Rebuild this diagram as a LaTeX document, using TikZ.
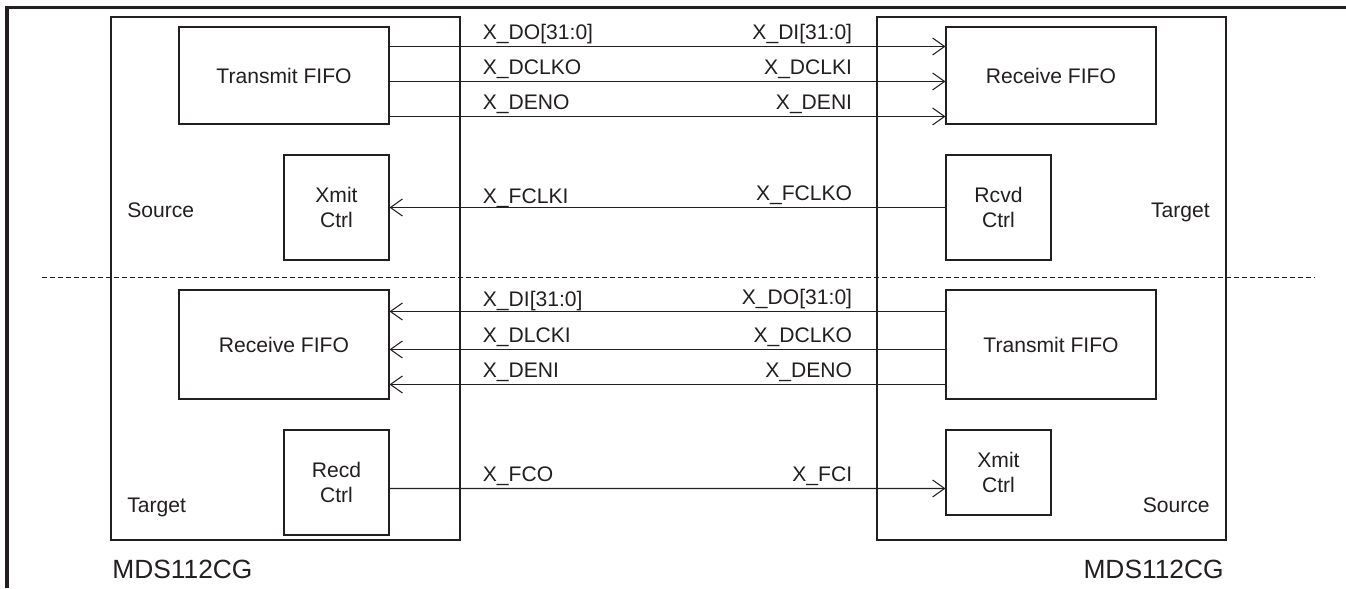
\documentclass[tikz,border=0pt]{standalone}
\usepackage{fontspec}
\setmainfont{Liberation Sans}
\usetikzlibrary{arrows.meta,calc}
\definecolor{mdsInk}{HTML}{231F20}
\tikzset{
  fifoBox/.style={draw=mdsInk, line width=0.6pt, minimum width=42mm, inner sep=0pt, align=center, text=mdsInk, font=\fontsize{12}{14.4}\selectfont},
  ctrlBox/.style={fifoBox, minimum width=21mm},
  sigArrow/.style={-{Straight Barb[length=2.4mm,width=3.4mm]}, line width=0.6pt, draw=mdsInk},
  sigLabel/.style={font=\fontsize{12}{14.4}\selectfont, text=mdsInk, inner sep=0pt, yshift=4pt},
  sideLabel/.style={font=\fontsize{12}{14.4}\selectfont, text=mdsInk, inner sep=0pt}
}
\begin{document}
\begin{tikzpicture}[x=0.2mm,y=-0.2mm]
  \useasboundingbox (0,0) rectangle (1346,588);
  \draw[line width=2.1pt, draw=mdsInk] (7,588) -- (7,7.5) -- (1346,7.5);
  \draw[line width=0.6pt, draw=mdsInk] (111,17) rectangle (460,540);
  \draw[line width=0.6pt, draw=mdsInk] (877,17) rectangle (1226,540);
  \draw[line width=0.5pt, draw=mdsInk, dash pattern=on 1mm off 0.6mm] (42,277) -- (1315,277);

  \node[fifoBox, minimum height=19.4mm] (txA) at (284,75.5) {Transmit FIFO};
  \node[fifoBox, minimum height=19.4mm] (rxA) at (1051,75.5) {Receive FIFO};
  \node[ctrlBox, minimum height=21mm] (xmitA) at (336.5,207.5) {Xmit\\Ctrl};
  \node[ctrlBox, minimum height=21mm] (rcvdA) at (998.5,207.5) {Rcvd\\Ctrl};
  \node[fifoBox, minimum height=21.8mm] (rxB) at (284,344.5) {Receive FIFO};
  \node[fifoBox, minimum height=21.8mm] (txB) at (1051,344.5) {Transmit FIFO};
  \node[ctrlBox, minimum height=21mm] (recdB) at (336.5,482.5) {Recd\\Ctrl};
  \node[ctrlBox, minimum height=17mm] (xmitB) at (998.5,472.5) {Xmit\\Ctrl};

  \draw[sigArrow] ($(txA.north east)+(0,20)$) -- ($(rxA.north west)+(0,20)$)
    node[sigLabel, pos=.167, anchor=base west] {X\_DO[31:0]}
    node[sigLabel, pos=.833, anchor=base east] {X\_DI[31:0]};
  \draw[sigArrow] ($(txA.north east)+(0,55)$) -- ($(rxA.north west)+(0,55)$)
    node[sigLabel, pos=.167, anchor=base west] {X\_DCLKO}
    node[sigLabel, pos=.833, anchor=base east] {X\_DCLKI};
  \draw[sigArrow] ($(txA.north east)+(0,90)$) -- ($(rxA.north west)+(0,90)$)
    node[sigLabel, pos=.167, anchor=base west] {X\_DENO}
    node[sigLabel, pos=.833, anchor=base east] {X\_DENI};
  \draw[sigArrow] (rcvdA.west) -- (xmitA.east)
    node[sigLabel, pos=.167, anchor=base east] {X\_FCLKO}
    node[sigLabel, yshift=-2pt, pos=.833, anchor=base west] {X\_FCLKI};

  \draw[sigArrow] ($(txB.north west)+(0,22)$) -- ($(rxB.north east)+(0,22)$)
    node[sigLabel, pos=.167, anchor=base east] {X\_DO[31:0]}
    node[sigLabel, yshift=-1pt, pos=.833, anchor=base west] {X\_DI[31:0]};
  \draw[sigArrow] ($(txB.north west)+(0,60)$) -- ($(rxB.north east)+(0,60)$)
    node[sigLabel, pos=.167, anchor=base east] {X\_DCLKO}
    node[sigLabel, pos=.833, anchor=base west] {X\_DLCKI};
  \draw[sigArrow] ($(txB.north west)+(0,95)$) -- ($(rxB.north east)+(0,95)$)
    node[sigLabel, pos=.167, anchor=base east] {X\_DENO}
    node[sigLabel, pos=.833, anchor=base west] {X\_DENI};
  \draw[sigArrow] ($(recdB.north east)+(0,59)$) -- ($(xmitB.north west)+(0,59)$)
    node[sigLabel, pos=.167, anchor=base west] {X\_FCO}
    node[sigLabel, pos=.833, anchor=base east] {X\_FCI};

  \node[sideLabel, anchor=base west] (srcA) at (127,217) {Source};
  \node[sideLabel, anchor=base east] (tgtA) at (1210,217) {Target};
  \node[sideLabel, anchor=base west] (tgtB) at (127,512) {Target};
  \node[sideLabel, anchor=base east] (srcB) at (1210,512) {Source};
  \node[sideLabel, font=\fontsize{15}{18}\selectfont, anchor=base west] (chipA) at (112,578) {MDS112CG};
  \node[sideLabel, font=\fontsize{15}{18}\selectfont, anchor=base east] (chipB) at (1224,578) {MDS112CG};
\end{tikzpicture}
\end{document}
